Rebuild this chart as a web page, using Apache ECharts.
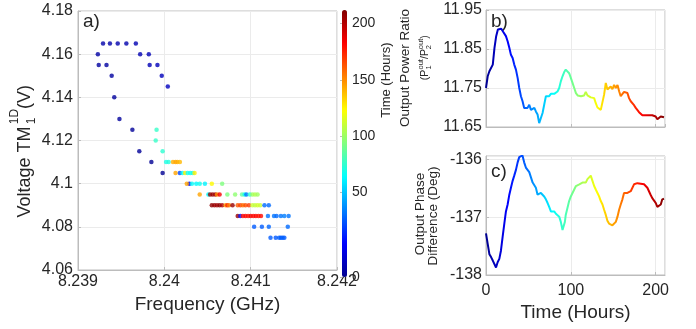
<!DOCTYPE html>
<html>
<head>
<meta charset="utf-8">
<script src="https://cdn.jsdelivr.net/npm/echarts@6.0.0/dist/echarts.min.js"></script>
<style>
html, body { margin: 0; padding: 0; background: #fff; }
#chart { width: 696px; height: 329px; }
</style>
</head>
<body>
<div id="chart"></div>
<script>
// a) frequency / voltage points, coloured by time
var FREQ = [
	8.23929, 8.23937, 8.23946, 8.23956, 8.23967,
	8.23923, 8.23972, 8.23982,
	8.23924, 8.23933, 8.23983, 8.23992,
	8.23939, 8.23997, 8.24004, 8.23942, 8.23948, 8.23963, 8.23971, 8.23985, 8.23998, 8.24029,
	8.23991, 8.23990, 8.23998,
	8.24002, 8.24005, 8.24010, 8.24013, 8.24015, 8.24018,
	8.24013, 8.24018, 8.24021, 8.24024, 8.24027, 8.24030, 8.24033, 8.24035,
	8.24026, 8.24032, 8.24037, 8.24041, 8.24047, 8.24055, 8.24067,
	8.24041, 8.24051, 8.24053, 8.24056, 8.24059, 8.24061, 8.24064, 8.24073, 8.24082, 8.24090, 8.24093, 8.24095, 8.24099, 8.24102, 8.24105, 8.24108,
	8.24055, 8.24058, 8.24061, 8.24064, 8.24067, 8.24071, 8.24073, 8.24075, 8.24079, 8.24085, 8.24088, 8.24091, 8.24094, 8.24098, 8.24102, 8.24105, 8.24108, 8.24111, 8.24116, 8.24121,
	8.24085, 8.24088, 8.24091, 8.24094, 8.24097, 8.24100, 8.24103, 8.24106, 8.24109, 8.24112, 8.24120, 8.24127, 8.24130, 8.24135, 8.24139, 8.24144,
	8.24104, 8.24113, 8.24121, 8.24143,
	8.24123, 8.24129, 8.24133, 8.24135, 8.24137, 8.24139
];
var VOLT = [
	4.165, 4.165, 4.165, 4.165, 4.165,
	4.16, 4.16, 4.16,
	4.155, 4.155, 4.155, 4.155,
	4.15, 4.15, 4.145, 4.14, 4.13, 4.125, 4.115, 4.11, 4.105, 4.1,
	4.125, 4.12, 4.115,
	4.11, 4.11, 4.11, 4.11, 4.11, 4.11,
	4.105, 4.105, 4.105, 4.105, 4.105, 4.105, 4.105, 4.105,
	4.1, 4.1, 4.1, 4.1, 4.1, 4.1, 4.1,
	4.095, 4.095, 4.095, 4.095, 4.095, 4.095, 4.095, 4.095, 4.095, 4.095, 4.095, 4.095, 4.095, 4.095, 4.095, 4.095,
	4.09, 4.09, 4.09, 4.09, 4.09, 4.09, 4.09, 4.09, 4.09, 4.09, 4.09, 4.09, 4.09, 4.09, 4.09, 4.09, 4.09, 4.09, 4.09, 4.09,
	4.085, 4.085, 4.085, 4.085, 4.085, 4.085, 4.085, 4.085, 4.085, 4.085, 4.085, 4.085, 4.085, 4.085, 4.085, 4.085,
	4.08, 4.08, 4.08, 4.08,
	4.075, 4.075, 4.075, 4.075, 4.075, 4.075
];
var HOURS = [
	6, 6, 7, 7, 8,
	5, 8, 9,
	4, 4, 9, 10,
	4, 10, 11, 3, 3, 2, 2, 1, 1, 22,
	90, 90, 88,
	84, 86, 148, 150, 148, 146,
	150, 40, 80, 135, 82, 80, 84, 135,
	150, 80, 78, 82, 76, 132, 105,
	150, 78, 205, 205, 203, 155, 185, 105, 108, 100, 82, 50, 88, 112, 115, 112,
	207, 205, 203, 207, 200, 152, 178, 158, 205, 165, 170, 162, 168, 172, 120, 118, 122, 120, 48, 48,
	205, 30, 182, 184, 180, 186, 182, 184, 180, 182, 50, 50, 48, 50, 52, 50,
	45, 45, 47, 48,
	45, 44, 46, 45, 46, 45
];

// b) output power ratio vs time
var T_B = [0, 2, 4, 6, 8, 10, 12, 14, 16, 18, 20, 21.6, 23.5, 25.5, 27.5, 29.4, 31.4, 33.3, 35.3, 37.3,
	39.2, 41.2, 43.1, 45, 47, 49, 51, 53, 55, 57, 58.8, 60.8, 62.7, 64.7, 66.7, 68.6, 70.6, 72.5, 74.5, 76.5,
	78.4, 80.4, 82.4, 84.3, 86.3, 88.2, 90.2, 92.2, 94, 96, 98, 100, 102, 104, 106, 108, 110, 112, 113.7, 115.7,
	117.6, 119.6, 121.6, 123.5, 125.5, 127.5, 129.4, 131.4, 133.3, 135.3, 137.3, 139.2, 141.2, 143.1, 145, 147, 149, 151, 153, 155,
	157, 158.8, 160.8, 162.7, 164.7, 166.7, 168.6, 170.6, 172.5, 174.5, 176.5, 178.4, 180.4, 182.4, 184.3, 186.3, 188.2, 190.2, 192.2, 194,
	196, 198, 200, 202, 204, 206, 207.8, 209.8];
var RATIO = [11.75, 11.78, 11.793, 11.797, 11.81, 11.853, 11.883, 11.9, 11.904, 11.902, 11.895, 11.891, 11.883, 11.87, 11.853, 11.835, 11.827, 11.81, 11.797, 11.776,
	11.75, 11.729, 11.716, 11.699, 11.703, 11.699, 11.707, 11.694, 11.699, 11.699, 11.69, 11.682, 11.66, 11.665, 11.686, 11.707, 11.729, 11.733, 11.729, 11.735,
	11.731, 11.735, 11.737, 11.741, 11.75, 11.767, 11.78, 11.791, 11.797, 11.794, 11.788, 11.776, 11.763, 11.75, 11.737, 11.731, 11.726, 11.729, 11.726, 11.731,
	11.74, 11.731, 11.729, 11.726, 11.728, 11.724, 11.711, 11.7, 11.699, 11.694, 11.699, 11.733, 11.763, 11.746, 11.75, 11.754, 11.747, 11.758, 11.75, 11.758,
	11.741, 11.729, 11.733, 11.74, 11.743, 11.737, 11.724, 11.716, 11.713, 11.706, 11.699, 11.694, 11.688, 11.683, 11.68, 11.677, 11.68, 11.682, 11.68, 11.677,
	11.68, 11.675, 11.677, 11.67, 11.669, 11.677, 11.673, 11.675];

// c) output phase difference vs time
var T_C = [0, 2, 4, 6, 8, 10, 11.8, 13.7, 15.7, 17.6, 19.6, 21.6, 23.5, 25.5, 27.5, 29.4, 31.4, 33.3, 35.3, 37.3,
	39.2, 41.2, 43, 45, 47, 49, 51, 53, 55, 56.9, 58.8, 60.8, 62.7, 64.7, 66.7, 68.6, 70.6, 72.5, 74.5, 76.5,
	78.4, 80.4, 82.4, 84.3, 86.3, 88.2, 90.2, 91.4, 93, 94, 96, 98, 100, 102, 104, 106, 108, 110, 112, 113.7,
	115.7, 117.6, 119.6, 121.6, 123.5, 125.5, 127.5, 129.4, 131.4, 133.3, 135.3, 137.3, 139.2, 141.2, 143.1, 145, 147, 149, 151, 153,
	155, 156.9, 158.8, 160.8, 162.7, 164.7, 166.7, 168.6, 170.6, 172.5, 174.5, 176.5, 178.4, 180.4, 182.4, 184.3, 186.3, 188.2, 190.2, 192.2,
	194, 196, 198, 200, 202, 204, 206, 207.8, 209.8];
var PHASE = [-137.28, -137.46, -137.64, -137.69, -137.75, -137.78, -137.87, -137.78, -137.72, -137.58, -137.34, -137.11, -136.9, -136.78, -136.61, -136.49, -136.37, -136.28, -136.18, -136.05,
	-135.96, -135.94, -135.93, -136.05, -136.14, -136.15, -136.22, -136.31, -136.4, -136.43, -136.49, -136.61, -136.58, -136.58, -136.56, -136.64, -136.69, -136.75, -136.82, -136.9,
	-136.92, -136.9, -136.94, -136.96, -136.99, -137.08, -137.22, -137.25, -137.08, -136.96, -136.84, -136.72, -136.64, -136.58, -136.52, -136.46, -136.49, -136.43, -136.45, -136.4,
	-136.37, -136.4, -136.34, -136.37, -136.28, -136.37, -136.46, -136.52, -136.58, -136.64, -136.72, -136.78, -136.87, -136.96, -137.06, -137.11, -137.12, -137.14, -137.12, -137.08,
	-136.99, -136.87, -136.78, -136.69, -136.58, -136.55, -136.58, -136.56, -136.55, -136.52, -136.43, -136.4, -136.41, -136.4, -136.42, -136.4, -136.43, -136.46, -136.49, -136.52,
	-136.61, -136.67, -136.69, -136.75, -136.82, -136.82, -136.78, -136.69, -136.68];

// colorbar tick labels (bottom one sits at the bar's end in the figure)
var CBAR_TICKS = [-25, 50, 100, 150, 200];
var CBAR_LABELS = ['0', '50', '100', '150', '200'];

var JET = ['#00008f', '#0000ff', '#0080ff', '#00ffff', '#80ff80', '#ffff00', '#ff8000', '#ff0000', '#800000'];
var FONT = '"Liberation Sans", Arial, Helvetica, sans-serif';
var TXT = '#262626';
var BOX = '#bcbcbc';
var GRIDC = '#ebebeb';

function vtext( str, x, y, size )
{
	return {
		type: 'text', x: x, y: y, rotation: Math.PI / 2, silent: true,
		style: { text: str, fontSize: size, fontFamily: FONT, fill: TXT, align: 'center', verticalAlign: 'middle' }
	};
}
function htext( str, x, y, size )
{
	return {
		type: 'text', x: x, y: y, silent: true,
		style: { text: str, fontSize: size, fontFamily: FONT, fill: TXT, align: 'left', verticalAlign: 'middle' }
	};
}

function valAxis( grid, opt )
{
	var a = {
		type: 'value', gridIndex: grid,
		axisLine: { show: true, lineStyle: { color: BOX } },
		axisTick: { show: true, inside: true, length: 3, lineStyle: { color: BOX } },
		splitLine: { show: true, lineStyle: { color: GRIDC } },
		axisLabel: { color: TXT, fontSize: 16, fontFamily: FONT },
		nameTextStyle: { color: TXT, fontSize: 19, fontFamily: FONT }
	};
	for( var k in opt )
	{
		if( typeof opt[k] === 'object' && a[k] ) { for( var j in opt[k] ) a[k][j] = opt[k][j]; }
		else a[k] = opt[k];
	}
	return a;
}

var scatterData = FREQ.map( function( f, i ){ return [ f, VOLT[i], HOURS[i] ]; } );
var lineB = T_B.map( function( t, i ){ return [ t, RATIO[i] ]; } );
var lineC = T_C.map( function( t, i ){ return [ t, PHASE[i] ]; } );

var chart = echarts.init( document.getElementById( 'chart' ), null, { renderer: 'canvas' } );
chart.setOption({
	animation: false,
	textStyle: { fontFamily: FONT },
	grid: [
		{ left: 78, top: 11, width: 259, height: 259, show: true, borderColor: BOX, backgroundColor: '#fff' },
		{ left: 486, top: 10, width: 179, height: 117, show: true, borderColor: BOX, backgroundColor: '#fff' },
		{ left: 486, top: 156, width: 179, height: 119, show: true, borderColor: BOX, backgroundColor: '#fff' },
		{ left: 342, top: 10, width: 5, height: 267 }
	],
	xAxis: [
		valAxis( 0, { min: 8.239, max: 8.242, interval: 0.001, name: 'Frequency (GHz)', nameLocation: 'middle', nameGap: 25,
			axisLabel: { margin: 4 } } ),
		valAxis( 1, { min: 0, max: 211, interval: 100, axisLabel: { show: false } } ),
		valAxis( 2, { min: 0, max: 211, interval: 100, name: 'Time (Hours)', nameLocation: 'middle', nameGap: 28,
			axisLabel: { margin: 8, showMaxLabel: false } } ),
		{ type: 'value', gridIndex: 3, show: false, min: 0, max: 1 }
	],
	yAxis: [
		valAxis( 0, { min: 4.06, max: 4.18, interval: 0.02, axisLabel: { margin: 5 } } ),
		valAxis( 1, { min: 11.65, max: 11.95, interval: 0.1, axisLabel: { margin: 4 } } ),
		valAxis( 2, { min: -138, max: -135.94, interval: 1, axisLabel: { margin: 4, showMaxLabel: false } } ),
		{
			type: 'value', gridIndex: 3, position: 'right', min: -25, max: 212,
			axisLine: { show: false },
			splitLine: { show: false },
			axisTick: { show: true, inside: true, length: 2, customValues: CBAR_TICKS, lineStyle: { color: BOX } },
			axisLabel: {
				color: TXT, fontSize: 14, fontFamily: FONT, margin: 5, customValues: CBAR_TICKS,
				formatter: function( v ){ var i = CBAR_TICKS.indexOf( v ); return i < 0 ? '' : CBAR_LABELS[i]; }
			}
		}
	],
	visualMap: [
		{
			type: 'continuous', seriesIndex: 0, dimension: 2, min: 0, max: 210,
			inRange: { color: JET }, orient: 'vertical', left: 342, top: 10,
			itemWidth: 5, itemHeight: 267, calculable: false, padding: 0, hoverLink: false
		},
		{
			type: 'continuous', seriesIndex: [ 1, 2 ], dimension: 0, min: 0, max: 210,
			inRange: { color: JET }, show: false
		}
	],
	series: [
		{ type: 'scatter', xAxisIndex: 0, yAxisIndex: 0, data: scatterData, symbolSize: 4.5 },
		{ type: 'line', xAxisIndex: 1, yAxisIndex: 1, data: lineB, symbol: 'none', lineStyle: { width: 2 } },
		{ type: 'line', xAxisIndex: 2, yAxisIndex: 2, data: lineC, symbol: 'none', lineStyle: { width: 2 } }
	],
	graphic: [
		// left y label: Voltage TM_1^{1D} (V)
		vtext( 'Voltage TM', 25.5, 172, 18 ),
		vtext( '1D', 14.5, 116.5, 12 ),
		vtext( '1', 31.5, 121, 12 ),
		vtext( '(V)', 25.5, 97, 18 ),
		// colorbar label
		vtext( 'Time (Hours)', 386, 80, 13 ),
		// b) y label
		vtext( 'Output Power Ratio', 405, 68, 13.5 ),
		vtext( '(P', 425, 75, 10.5 ),
		vtext( 'out', 421, 64.3, 7.5 ),
		vtext( '1', 429, 67.4, 7.5 ),
		vtext( '/P', 425, 54, 10.5 ),
		vtext( 'out', 421, 44, 7.5 ),
		vtext( '2', 429, 47.1, 7.5 ),
		vtext( ')', 425, 37, 10.5 ),
		// c) y label
		vtext( 'Output Phase', 420, 214, 13.5 ),
		vtext( 'Difference (Deg)', 433, 216, 13.5 ),
		// panel letters
		htext( 'a)', 83, 21.5, 19 ),
		htext( 'b)', 491, 21.5, 19 ),
		htext( 'c)', 491, 171.5, 19 )
	]
});
</script>
</body>
</html>
